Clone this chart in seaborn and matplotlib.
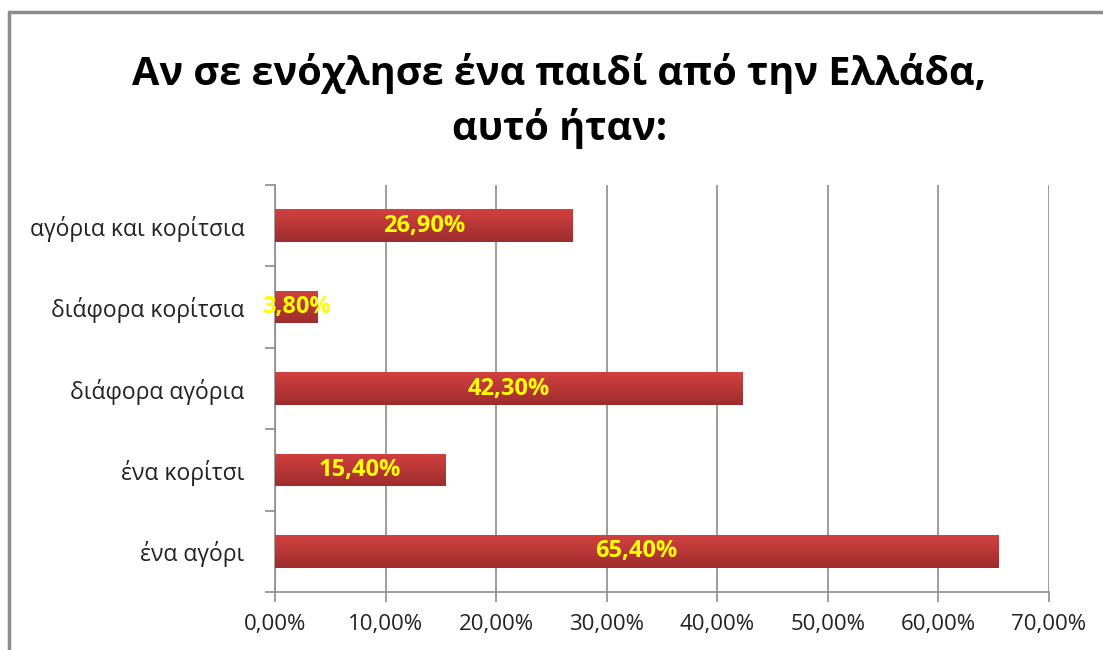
import numpy as np
import pandas as pd
import matplotlib.pyplot as plt
import seaborn as sns
from matplotlib.lines import Line2D
from matplotlib.colors import LinearSegmentedColormap
from matplotlib.ticker import FuncFormatter, FixedLocator

# data (top to bottom as shown)
categories = ["αγόρια και κορίτσια", "διάφορα κορίτσια", "διάφορα αγόρια", "ένα κορίτσι", "ένα αγόρι"]
values = [26.9, 3.8, 42.3, 15.4, 65.4]
title = "Αν σε ενόχλησε ένα παιδί από την Ελλάδα,\nαυτό ήταν:"

BAR_COLOR = "#bb3535"
GRID_COLOR = "#8c8c8c"

sns.set_theme(style="white")
plt.rcParams['font.family'] = ['Open Sans', 'DejaVu Sans']

df = pd.DataFrame({"cat": categories, "val": values})

fig = plt.figure(figsize=(11.03, 6.5), dpi=100)
ax = fig.add_axes([0.2493, 0.0892, 0.7017, 0.6262])

sns.barplot(data=df, x="val", y="cat", color=BAR_COLOR, width=0.4,
            saturation=1, linewidth=0, ax=ax, zorder=3)

# top-to-bottom shading like the original bars
shade = LinearSegmentedColormap.from_list("shade", ["#d24040", "#9e2d2d"])
grad = np.linspace(0, 1, 64).reshape(-1, 1)
for p in ax.patches:
    x0, y0 = p.get_x(), p.get_y()
    w, h = p.get_width(), p.get_height()
    im = ax.imshow(grad, cmap=shade, aspect="auto", extent=[x0, x0 + w, y0 + h, y0],
                   origin="upper", zorder=3.5)
    im.set_clip_path(p)

# label each bar in the middle
for i, v in enumerate(values):
    ax.text(v / 2, i, f"{v:.2f}%".replace(".", ","), ha="center", va="center",
            color="#ffff00", fontsize=17, fontweight="bold", zorder=4)

ax.set_xlim(0, 70)
ax.set_ylim(len(categories) - 0.5, -0.5)
ax.xaxis.set_major_locator(FixedLocator(range(0, 71, 10)))
ax.xaxis.set_major_formatter(FuncFormatter(lambda x, _: f"{x:.2f}%".replace(".", ",")))
ax.grid(axis="x", color=GRID_COLOR, linewidth=1.2, zorder=0)
ax.set_xlabel("")
ax.set_ylabel("")

# y tick marks between categories, labels at centres
ax.set_yticks(range(len(categories)))
ax.set_yticklabels(categories)
ax.tick_params(axis="y", length=0, pad=22, labelsize=16.5, labelcolor="#222222")
ax.set_yticks([i + 0.5 for i in range(-1, len(categories))], minor=True)
ax.tick_params(axis="y", which="minor", left=True, length=7, color=GRID_COLOR, width=1.2)
ax.tick_params(axis="x", bottom=True, length=7, color=GRID_COLOR, width=1.2,
               labelsize=16, labelcolor="#222222", pad=9)

for side in ["top", "right"]:
    ax.spines[side].set_visible(False)
for side in ["left", "bottom"]:
    ax.spines[side].set_color(GRID_COLOR)
    ax.spines[side].set_linewidth(1.2)

fig.text(0.507, 0.845, title, ha="center", va="center", fontsize=28.5,
         fontweight="bold", color="black", linespacing=1.45)

# outer chart frame
fig.add_artist(Line2D([9 / 1103, 1], [1 - 12 / 650, 1 - 12 / 650], color="#8c8c8c", linewidth=2.5))
fig.add_artist(Line2D([9 / 1103, 9 / 1103], [0, 1 - 12 / 650], color="#8c8c8c", linewidth=2.5))

fig.savefig("out.png", dpi=100)
